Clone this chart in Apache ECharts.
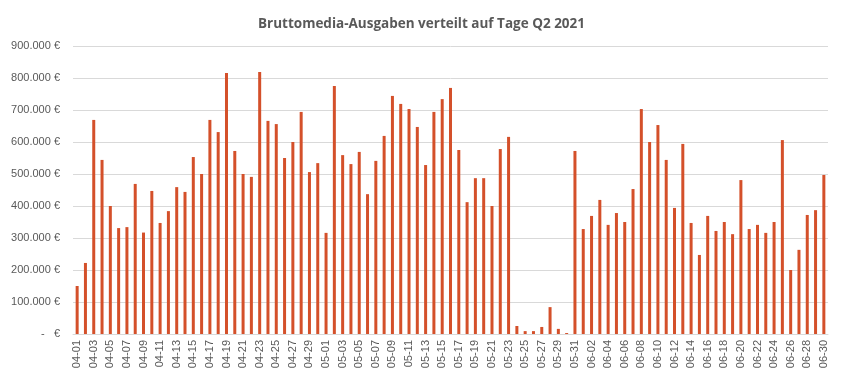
<!DOCTYPE html>
<html>
<head>
<meta charset="utf-8">
<script src="https://cdn.jsdelivr.net/npm/echarts@6/dist/echarts.min.js"></script>
<style>html,body{margin:0;padding:0;background:#fff;}#c{width:843px;height:379px;}</style>
</head>
<body>
<div id="c"></div>
<script>
const titleText = 'Bruttomedia-Ausgaben verteilt auf Tage Q2 2021';
const aprilValues = [150000,222000,669000,544000,400000,331000,334000,469000,317000,447000,347000,384000,459000,444000,553000,500000,669000,631000,816000,572000,500000,491000,819000,666000,656000,550000,600000,694000,506000,534000];
const mayValues = [316000,775000,559000,531000,569000,437000,541000,619000,744000,719000,703000,647000,528000,694000,734000,769000,575000,412000,487000,487000,400000,578000,616000,25000,9000,9000,22000,84000,16000,3000,572000];
const juneValues = [328000,369000,419000,341000,378000,350000,453000,703000,600000,653000,544000,394000,594000,347000,247000,369000,322000,350000,312000,481000,328000,341000,316000,350000,606000,200000,263000,372000,387000,497000];
const yTicks = {min:0, max:900000, interval:100000};

function days(month, n){const a=[];for(let d=1;d<=n;d++){a.push(month+'-'+String(d).padStart(2,'0'));}return a;}
const categories = [].concat(days('04',30), days('05',31), days('06',30));
const values = [].concat(aprilValues, mayValues, juneValues);

function fmt(v){
  if(v===0) return '-   €';
  return String(v).replace(/\B(?=(\d{3})+(?!\d))/g,'.') + ' €';
}

const chart = echarts.init(document.getElementById('c'), null, {renderer:'canvas'});
chart.setOption({
  animation:false,
  title:{text:titleText,left:'center',top:12,textStyle:{fontFamily:'Open Sans',fontWeight:'bold',fontSize:13.5,color:'#595959'}},
  grid:{left:73,right:15,top:46,bottom:45,containLabel:false},
  xAxis:{type:'category',data:categories,
    axisLine:{lineStyle:{color:'#d9d9d9'}},
    axisTick:{show:false},
    axisLabel:{interval:1,rotate:90,fontSize:11,color:'#595959',fontFamily:'Liberation Sans',margin:6}},
  yAxis:{type:'value',min:yTicks.min,max:yTicks.max,interval:yTicks.interval,
    axisLine:{show:false},axisTick:{show:false},
    splitLine:{lineStyle:{color:'#d9d9d9'}},
    axisLabel:{formatter:fmt,fontSize:11,color:'#595959',fontFamily:'Liberation Sans',margin:13}},
  series:[{type:'bar',data:values,barWidth:3,itemStyle:{color:'#D4502A'}}]
});
</script>
</body>
</html>
